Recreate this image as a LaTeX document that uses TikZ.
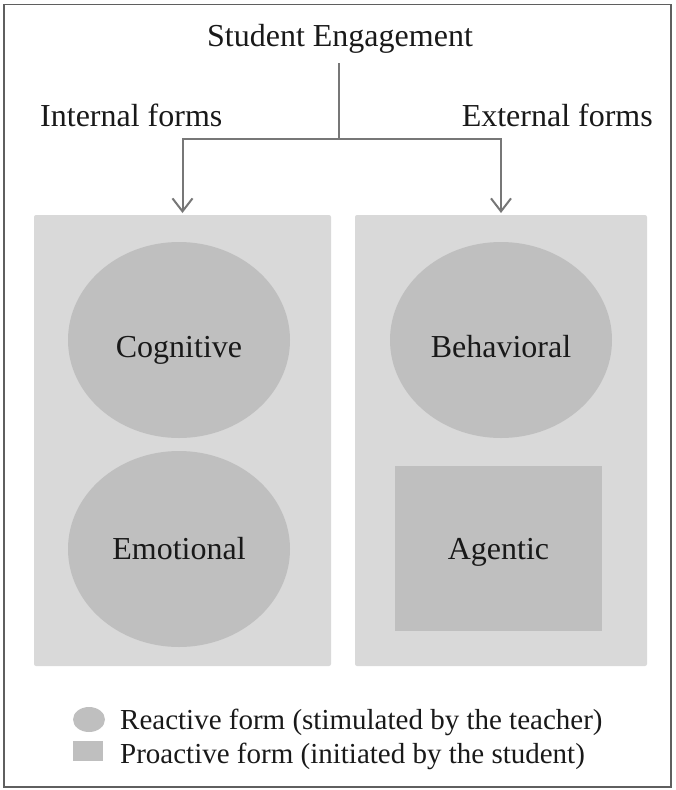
\documentclass[tikz,border=0pt]{standalone}
\usepackage{fontspec}
\setmainfont{Liberation Serif}
\usetikzlibrary{shapes.geometric,arrows.meta}
\definecolor{panelgray}{HTML}{D9D9D9}
\definecolor{shapegray}{HTML}{BFBFBF}
\definecolor{linegray}{HTML}{777777}
\definecolor{framegray}{HTML}{5F5F5F}
\tikzset{
  big/.style={font=\fontsize{32}{38}\selectfont, inner sep=0pt, text=black!90},
  small/.style={font=\fontsize{29}{34}\selectfont, inner sep=0pt, text=black!90},
  panel/.style={fill=panelgray, draw=none, rounded corners=2pt},
  reactive/.style={ellipse, fill=shapegray, draw=none, minimum width=222pt, minimum height=196pt, inner sep=0pt, font=\fontsize{32}{38}\selectfont, text=black!90},
  proactive/.style={rectangle, fill=shapegray, draw=none, minimum width=207pt, minimum height=165pt, inner sep=0pt, font=\fontsize{32}{38}\selectfont, text=black!90},
  conn/.style={draw=linegray, line width=2pt},
  tip/.style={-{Straight Barb[length=13pt,width=20pt,line width=2pt]}},
}
\begin{document}
\begin{tikzpicture}[x=1pt,y=-1pt]
\useasboundingbox (0,0) rectangle (675,790);
\draw[framegray, line width=1.5pt] (4,4.5) rectangle (671,787);

% titles
\node[big, anchor=base] (title) at (340,46) {Student Engagement};
\node[big, anchor=base west] (internal) at (40,126) {Internal forms};
\node[big, anchor=base east] (external) at (653,126) {External forms};

% panels
\path[panel] (34,215) rectangle (331,666);
\path[panel] (355,215) rectangle (647,666);
\coordinate (leftbox) at (182.5,215);
\coordinate (rightbox) at (501,215);

% connectors
\coordinate (split) at (339,139);
\draw[conn] ([yshift=-10pt]title.south -| split) -- (split);
\draw[conn, tip] (split) -| ([yshift=2pt]leftbox);
\draw[conn, tip] (split) -| ([yshift=2pt]rightbox);

% shapes
\node[reactive, text height=34pt, text depth=0pt] (cognitive) at (179,340) {Cognitive};
\node[reactive, text height=21pt, text depth=0pt] (emotional) at (179,549) {Emotional};
\node[reactive, text height=34pt, text depth=0pt] (behavioral) at (501,340) {Behavioral};
\node[proactive, text height=21pt, text depth=0pt] (agentic) at (498.5,548.5) {Agentic};

% legend
\node[ellipse, fill=shapegray, minimum width=32pt, minimum height=25pt, inner sep=0pt] (legcirc) at (89,719.5) {};
\node[rectangle, fill=shapegray, minimum width=30pt, minimum height=20pt, inner sep=0pt] (legsq) at (88,751) {};
\node[small, anchor=base west] (legtext1) at (120,729) {Reactive form (stimulated by the teacher)};
\node[small, anchor=base west] (legtext2) at (120,763) {Proactive form (initiated by the student)};
\end{tikzpicture}
\end{document}
